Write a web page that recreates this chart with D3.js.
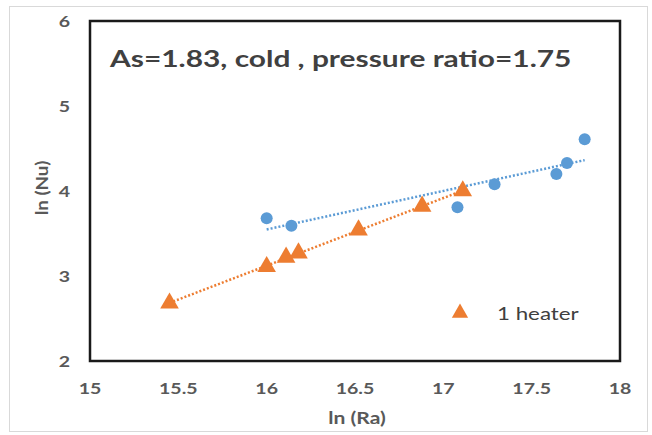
<head>
    <script src="https://d3js.org/d3.v7.min.js"></script>
    <style>
        body { margin: 0; background: #fff; font-family: Lato, "Open Sans", sans-serif; }
    </style>
</head>
<body>
    <svg></svg>
    <script>
        // ln(Ra), ln(Nu)
        const blueRa = [16.0, 16.14, 17.08, 17.29, 17.64, 17.70, 17.80]
        const blueNu = [3.68, 3.59, 3.81, 4.08, 4.20, 4.33, 4.61]
        const heaterRa = [15.45, 16.0, 16.11, 16.18, 16.52, 16.88, 17.11]
        const heaterNu = [2.68, 3.11, 3.22, 3.27, 3.54, 3.82, 4.00]
        const xTicks = [15, 15.5, 16, 16.5, 17, 17.5, 18]
        const yTicks = [2, 3, 4, 5, 6]
        const title = 'As=1.83, cold , pressure ratio=1.75'
        const legendLabel = '1 heater'

        const width = 652, height = 435
        const margin = {left: 90, right: 32, top: 21, bottom: 74}

        const svg = d3.select('svg').attr('width', width).attr('height', height)

        // the original picture is stretched sideways a bit, so text gets widened too
        function stretch(sel, k) {
            sel.each(function() {
                const len = this.getComputedTextLength()
                d3.select(this).attr('textLength', len * k).attr('lengthAdjust', 'spacingAndGlyphs')
            })
        }

        // outer chart border
        svg.append('rect')
            .attr('x', 9.5).attr('y', 6.5)
            .attr('width', width - 14).attr('height', height - 10)
            .attr('fill', 'none').attr('stroke', '#d9d9d9')

        const x = d3.scaleLinear().domain([15, 18]).range([margin.left, width - margin.right])
        const y = d3.scaleLinear().domain([2, 6]).range([height - margin.bottom, margin.top])

        const g = svg.append('g')

        // tick labels
        g.selectAll('.xt').data(xTicks).enter().append('text')
            .attr('x', d => x(d)).attr('y', y(2) + 33)
            .attr('text-anchor', 'middle')
            .style('font-size', '16px').style('fill', '#595959').style('font-weight', 'bold')
            .text(d => d)
            .call(stretch, 1.22)
        g.selectAll('.yt').data(yTicks).enter().append('text')
            .attr('x', x(15) - 20).attr('y', d => y(d) + 6)
            .attr('text-anchor', 'end')
            .style('font-size', '16px').style('fill', '#595959').style('font-weight', 'bold')
            .text(d => d)
            .call(stretch, 1.22)

        // axis titles
        g.append('text')
            .attr('x', 357).attr('y', 424)
            .attr('text-anchor', 'middle')
            .style('font-size', '17px').style('fill', '#595959').style('font-weight', 'bold')
            .text('ln (Ra)')
            .call(stretch, 1.24)
        g.append('text')
            .attr('transform', 'translate(48,' + 188 + ')rotate(-90)')
            .attr('text-anchor', 'middle')
            .style('font-size', '17px').style('fill', '#595959').style('font-weight', 'bold')
            .text('ln (Nu)')
            .call(stretch, 1.1)

        // plot frame
        g.append('rect')
            .attr('x', x(15)).attr('y', y(6))
            .attr('width', x(18) - x(15)).attr('height', y(2) - y(6))
            .attr('fill', 'none').attr('stroke', '#1a1a1a').attr('stroke-width', 2.5)

        // linear trendlines
        function fit(xs, ys) {
            const mx = d3.mean(xs), my = d3.mean(ys)
            let sxy = 0, sxx = 0
            xs.forEach((v, i) => { sxy += (v - mx) * (ys[i] - my); sxx += (v - mx) * (v - mx) })
            const b = sxy / sxx
            return v => my + b * (v - mx)
        }
        function trend(xs, ys, color) {
            const f = fit(xs, ys)
            const ext = d3.extent(xs)
            g.append('line')
                .attr('x1', x(ext[0])).attr('y1', y(f(ext[0])))
                .attr('x2', x(ext[1])).attr('y2', y(f(ext[1])))
                .attr('stroke', color).attr('stroke-width', 2.5)
                .attr('stroke-dasharray', '2,2')
        }
        trend(blueRa, blueNu, '#5B9BD5')
        trend(heaterRa, heaterNu, '#ED7D31')

        // markers
        g.selectAll('.dot').data(blueRa).enter().append('circle')
            .attr('cx', d => x(d)).attr('cy', (d, i) => y(blueNu[i]))
            .attr('r', 6).attr('fill', '#5B9BD5')

        const tri = d3.symbol().type(d3.symbolTriangle).size(150)
        g.selectAll('.tri').data(heaterRa).enter().append('path')
            .attr('d', tri)
            .attr('transform', (d, i) => 'translate(' + x(d) + ',' + y(heaterNu[i]) + ')')
            .attr('fill', '#ED7D31')

        // title
        g.append('text')
            .attr('x', 110).attr('y', 67)
            .style('font-size', '23px').style('fill', '#404040').style('font-weight', 'bold')
            .text(title)
            .call(stretch, 1.3)

        // legend
        g.append('path')
            .attr('d', d3.symbol().type(d3.symbolTriangle).size(115))
            .attr('transform', 'translate(460,313)')
            .attr('fill', '#ED7D31')
        g.append('text')
            .attr('x', 497).attr('y', 320)
            .style('font-size', '18px').style('fill', '#404040')
            .text(legendLabel)
            .call(stretch, 1.24)
    </script>
</body>
